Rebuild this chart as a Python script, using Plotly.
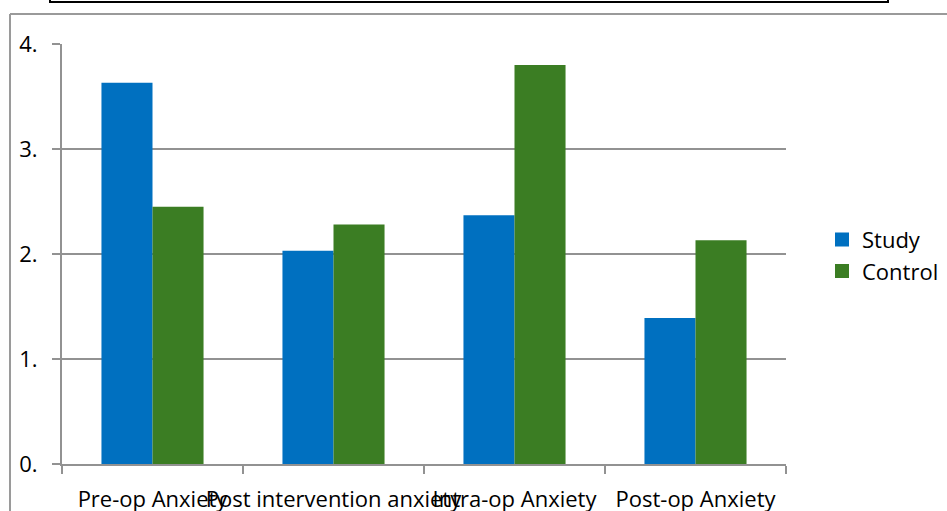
import plotly.graph_objects as go

# Category labels and mean anxiety scores per group
categories = ["Pre-op Anxiety", "Post intervention anxiety", "Intra-op Anxiety", "Post-op Anxiety"]
study_values = [3.63, 2.03, 2.37, 1.39]
control_values = [2.45, 2.28, 3.80, 2.13]

y_tick_values = [0, 1, 2, 3, 4]
y_tick_labels = ["0.", "1.", "2.", "3.", "4."]

FONT = "Open Sans"
GRID = "#929292"
STUDY_COLOR = "#0070C0"
CONTROL_COLOR = "#3B7D23"

fig = go.Figure()
fig.add_trace(go.Bar(name="Study", x=categories, y=study_values, showlegend=False,
                     marker=dict(color=STUDY_COLOR, line=dict(width=0))))
fig.add_trace(go.Bar(name="Control", x=categories, y=control_values, showlegend=False,
                     marker=dict(color=CONTROL_COLOR, line=dict(width=0))))
# square legend keys
for name, color in [("Study", STUDY_COLOR), ("Control", CONTROL_COLOR)]:
    fig.add_trace(go.Scatter(name=name, x=[None], y=[None], mode="markers",
                             marker=dict(symbol="square", size=14, color=color),
                             hoverinfo="skip"))

W, H = 947, 511
L, R, T, B = 62, 161, 44, 47
pw, ph = W - L - R, H - T - B


def px_x(x):
    return (x - L) / pw


def px_y(y):
    return (H - B - y) / ph


shapes = [
    # outer chart frame (top and left edges)
    dict(type="line", xref="paper", yref="paper",
         x0=px_x(10), x1=px_x(960), y0=px_y(14), y1=px_y(14),
         line=dict(color="#9a9a9a", width=2)),
    dict(type="line", xref="paper", yref="paper",
         x0=px_x(10), x1=px_x(10), y0=px_y(14), y1=px_y(520),
         line=dict(color="#9a9a9a", width=2)),
    # title box edge at the top
    dict(type="rect", xref="paper", yref="paper",
         x0=px_x(50), x1=px_x(888), y0=px_y(2), y1=px_y(-20),
         line=dict(color="black", width=2)),
]

fig.update_layout(
    width=W, height=H,
    margin=dict(l=L, r=R, t=T, b=B, pad=0, autoexpand=False),
    paper_bgcolor="white", plot_bgcolor="white",
    barmode="group", bargap=0.436, bargroupgap=0,
    font=dict(family=FONT, size=20, color="black"),
    showlegend=True,
    legend=dict(x=px_x(822), y=0.496, xanchor="left", yanchor="middle",
                font=dict(family=FONT, size=22, color="black"),
                bgcolor="rgba(0,0,0,0)", tracegroupgap=6, itemwidth=30),
    shapes=shapes,
    xaxis=dict(
        type="category", showgrid=False, showline=True, linecolor=GRID, linewidth=2,
        ticks="outside", tickson="boundaries", ticklen=8, tickcolor=GRID, tickwidth=2,
        tickangle=0, ticklabelstandoff=15,
        tickfont=dict(family=FONT, size=22, color="black"),
    ),
    yaxis=dict(
        range=[0, 4], tickvals=y_tick_values, ticktext=y_tick_labels,
        showgrid=True, gridcolor=GRID, gridwidth=2,
        showline=True, linecolor=GRID, linewidth=2,
        ticks="outside", ticklen=8, tickcolor=GRID, tickwidth=2,
        ticklabelstandoff=10, zeroline=False,
        tickfont=dict(family=FONT, size=22, color="black"),
    ),
)

fig.write_html("out.html")
